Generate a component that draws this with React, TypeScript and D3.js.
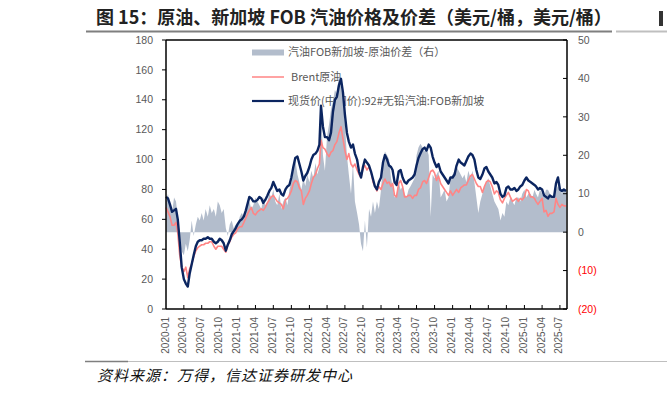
import React from "react";
import * as d3 from "d3";

// ---- data: three samples per month (1st, 11th, 21st), Jan 2020 .. Aug 2025 ----
const gasoline = [
  75, 74, 70, 65, 66, 67, 60, 45, 28, 20, 17, 15, 24, 30, 36, 42, 45, 46, 46, 47, 47, 48, 47, 47, 45, 44, 45, 47, 46, 44, 39, 43, 46, 50, 52, 54,
  57, 59, 60, 62, 66, 71, 75, 74, 72, 72, 73, 75, 74, 71, 73, 76, 79, 81, 85, 82, 79, 80, 77, 76, 80, 82, 83, 88, 95, 101, 102, 97, 92, 86, 89, 91,
  95, 100, 103, 104, 106, 110, 136, 122, 115, 115, 113, 118, 132, 140, 142, 150, 154, 145, 130, 118, 112, 108, 110, 104, 100, 92, 88, 95, 100, 98, 96, 92, 87, 82, 80, 85,
  88, 98, 103, 100, 96, 95, 93, 85, 83, 92, 93, 88, 85, 84, 86, 87, 88, 90, 96, 101, 104, 107, 108, 106, 110, 108, 102, 98, 95, 97, 92, 90, 88, 86, 84, 88,
  88, 90, 96, 100, 98, 97, 96, 99, 102, 104, 103, 100, 93, 88, 87, 90, 94, 95, 92, 90, 88, 84, 85, 83, 77, 75, 76, 81, 82, 80, 80, 81, 79, 80, 82, 83,
  86, 88, 86, 85, 84, 83, 82, 80, 81, 80, 76, 75, 74, 76, 75, 75, 84, 88, 80, 79, 80, 79,
];
const brent = [
  68, 65, 62, 56, 56, 58, 51, 36, 28, 25, 28, 21, 27, 30, 35, 39, 41, 42, 43, 43, 44, 44, 45, 45, 42, 40, 42, 42, 42, 40, 38, 43, 45, 48, 50, 51,
  54, 55, 55, 58, 61, 64, 66, 68, 64, 63, 65, 66, 67, 66, 68, 71, 73, 75, 76, 74, 72, 71, 70, 67, 73, 74, 76, 79, 84, 86, 85, 81, 79, 70, 74, 76,
  79, 84, 88, 90, 94, 97, 113, 108, 107, 104, 102, 105, 106, 110, 112, 118, 122, 114, 106, 100, 104, 97, 95, 97, 93, 90, 88, 94, 96, 93, 95, 92, 85, 82, 79, 82,
  80, 84, 87, 84, 85, 82, 84, 76, 75, 84, 86, 82, 75, 75, 76, 76, 74, 76, 76, 80, 81, 85, 86, 84, 88, 92, 93, 91, 86, 89, 84, 82, 80, 78, 76, 79,
  76, 78, 80, 78, 81, 82, 83, 83, 86, 89, 90, 87, 84, 82, 82, 78, 82, 85, 86, 85, 82, 77, 79, 78, 73, 71, 74, 76, 78, 75, 72, 73, 74, 72, 74, 73,
  75, 80, 79, 75, 75, 74, 72, 70, 72, 74, 65, 66, 62, 64, 64, 65, 74, 70, 68, 70, 69, 69,
];
const spread = [
  8, 10, 7, 5, 9, 8, 4, -3, -5, -6, -3, -5, -2, 3, -1, 2, 4, 3, 5, 3, 6, 4, 7, 5, 6, 4, 8, 7, 5, 6, 1, -1, 2, 3, 1, 2,
  2, 4, 5, 4, 5, 7, 8, 6, 7, 9, 8, 7, 6, 9, 7, 8, 10, 9, 11, 8, 7, 10, 6, 8, 9, 7, 11, 13, 16, 19, 15, 13, 11, 14, 12, 15,
  13, 16, 14, 18, 15, 17, 33, 20, 16, 25, 28, 32, 34, 37, 36, 41, 38, 35, 28, 20, 15, 10, 18, 8, 5, 2, -3, -5, 3, -4, 6, 4, 8, 5, 8, 6,
  11, 18, 21, 20, 19, 14, 12, 9, 10, 13, 11, 12, 10, 9, 11, 12, 13, 14, 20, 22, 23, 22, 21, 22, 20, 4, 15, 14, 15, 16, 9, 10, 11, 8, 9, 14,
  15, 16, 17, 16, 15, 14, 15, 13, 16, 14, 16, 13, 9, 5, 8, 10, 12, 13, 14, 12, 10, 8, 7, 6, 3, 5, 4, 8, 7, 9, 8, 7, 9, 9, 8, 10,
  11, 9, 10, 10, 9, 11, 10, 9, 11, 10, 9, 11, 11, 10, 9, 10, 11, 12, 11, 10, 11, 11,
];
const sampleDays = [1, 11, 21];
const leftTicks = [0, 20, 40, 60, 80, 100, 120, 140, 160, 180];
const rightTicks = [-20, -10, 0, 10, 20, 30, 40, 50];
const legendLabels = [
  "汽油FOB新加坡-原油价差（右）",
  "Brent原油",
  "现货价(中间价):92#无铅汽油:FOB新加坡",
];
const titleText = "图 15：原油、新加坡 FOB 汽油价格及价差（美元/桶，美元/桶）";
const sourceText = "资料来源：万得，信达证券研发中心";

const dates = spread.map((_, i) => new Date(2020, Math.floor(i / 3), sampleDays[i % 3]));

const W = 667;
const H = 393;
const GRAY = "#b3bdcc";
const PINK = "#ff8585";
const NAVY = "#0b2560";
const TXT = "#595959";
const FONT = "'Liberation Sans', Arial, 'Noto Sans CJK SC', sans-serif";
const CJK = "'Noto Sans CJK SC', 'Liberation Sans', sans-serif";

export default function App() {
  const x = d3.scaleTime().domain([new Date(2020, 0, 1), new Date(2025, 7, 6)]).range([166, 567]);
  const yL = d3.scaleLinear().domain([0, 180]).range([309, 40]);
  const yR = d3.scaleLinear().domain([-20, 50]).range([309, 40]);
  const xTicks = d3.timeMonth.every(3)!.range(new Date(2020, 0, 1), new Date(2025, 7, 2));
  const fmt = d3.timeFormat("%Y-%m");

  const area = d3
    .area<number>()
    .x((_, i) => x(dates[i]))
    .y0(yR(0))
    .y1((d) => yR(d));
  const lineL = d3
    .line<number>()
    .x((_, i) => x(dates[i]))
    .y((d) => yL(d));

  const fmtR = (v: number) => (v < 0 ? `(${-v})` : `${v}`);

  return (
    <svg width={W} height={H} style={{ position: "absolute", left: 0, top: 0, background: "#fff" }}>
      {/* title */}
      <text x={96} y={24} fontFamily={CJK} fontWeight="bold" fontSize={18} fill="#222">
        {titleText}
      </text>
      <line x1={86} x2={612} y1={31.5} y2={31.5} stroke="#7f7f7f" strokeWidth={2} />
      <line x1={616} x2={667} y1={31.5} y2={31.5} stroke="#bfbfbf" strokeWidth={2} />
      <rect x={659} y={11} width={4} height={15} fill="#333" />

      {/* legend (drawn under series) */}
      <rect x={252} y={49.5} width={32} height={6} fill={GRAY} />
      <text x={288} y={56} fontFamily={CJK} fontSize={11} fill={TXT}>{legendLabels[0]}</text>
      <line x1={252} x2={284} y1={77} y2={77} stroke={PINK} strokeWidth={1.5} />
      <text x={291} y={81} fontFamily={CJK} fontSize={11} fill={TXT}>{legendLabels[1]}</text>
      <line x1={252} x2={284} y1={101} y2={101} stroke={NAVY} strokeWidth={2.2} />
      <text x={288} y={105} fontFamily={CJK} fontSize={11} fill={TXT}>{legendLabels[2]}</text>

      {/* series */}
      <path d={area(spread) || ""} fill={GRAY} stroke="none" />
      <path d={lineL(brent) || ""} fill="none" stroke={PINK} strokeWidth={1.6} strokeLinejoin="round" />
      <path d={lineL(gasoline) || ""} fill="none" stroke={NAVY} strokeWidth={2.4} strokeLinejoin="round" />

      {/* frame */}
      <line x1={166} x2={567} y1={40} y2={40} stroke="#000" strokeWidth={1.5} />
      <line x1={166} x2={567} y1={309} y2={309} stroke="#000" strokeWidth={1.5} />
      <line x1={166} x2={166} y1={40} y2={309} stroke="#000" strokeWidth={1.5} />
      <line x1={567} x2={567} y1={40} y2={309} stroke="#000" strokeWidth={1.5} />

      {/* left axis */}
      {leftTicks.map((t) => (
        <g key={`l${t}`}>
          <line x1={162} x2={166} y1={yL(t)} y2={yL(t)} stroke="#000" strokeWidth={1} />
          <text x={153} y={yL(t)} dy="0.35em" textAnchor="end" fontFamily={FONT} fontSize={10.5} fill={TXT}>
            {t}
          </text>
        </g>
      ))}

      {/* right axis */}
      {rightTicks.map((t) => (
        <g key={`r${t}`}>
          <line x1={563} x2={567} y1={yR(t)} y2={yR(t)} stroke="#000" strokeWidth={1} />
          <text x={578} y={yR(t)} dy="0.35em" textAnchor="start" fontFamily={FONT} fontSize={10.5} fill={t < 0 ? "#ff0000" : TXT}>
            {fmtR(t)}
          </text>
        </g>
      ))}

      {/* bottom axis */}
      {xTicks.map((d, i) => (
        <g key={`x${i}`}>
          {i > 0 && <line x1={x(d)} x2={x(d)} y1={309} y2={305} stroke="#000" strokeWidth={1} />}
          <text
            transform={`translate(${x(d) - 1},317) rotate(-90)`}
            dy="0.35em"
            textAnchor="end"
            fontFamily={FONT}
            fontSize={10}
            fill={TXT}
          >
            {fmt(d)}
          </text>
        </g>
      ))}

      {/* footer */}
      <line x1={85} x2={128} y1={361.5} y2={361.5} stroke="#7f7f7f" strokeWidth={1.5} />
      <line x1={128} x2={667} y1={361.5} y2={361.5} stroke="#bfbfbf" strokeWidth={1} />
      <text x={97} y={381} fontFamily={CJK} fontStyle="italic" fontSize={15} letterSpacing={1} fill="#111">
        {sourceText}
      </text>
    </svg>
  );
}
